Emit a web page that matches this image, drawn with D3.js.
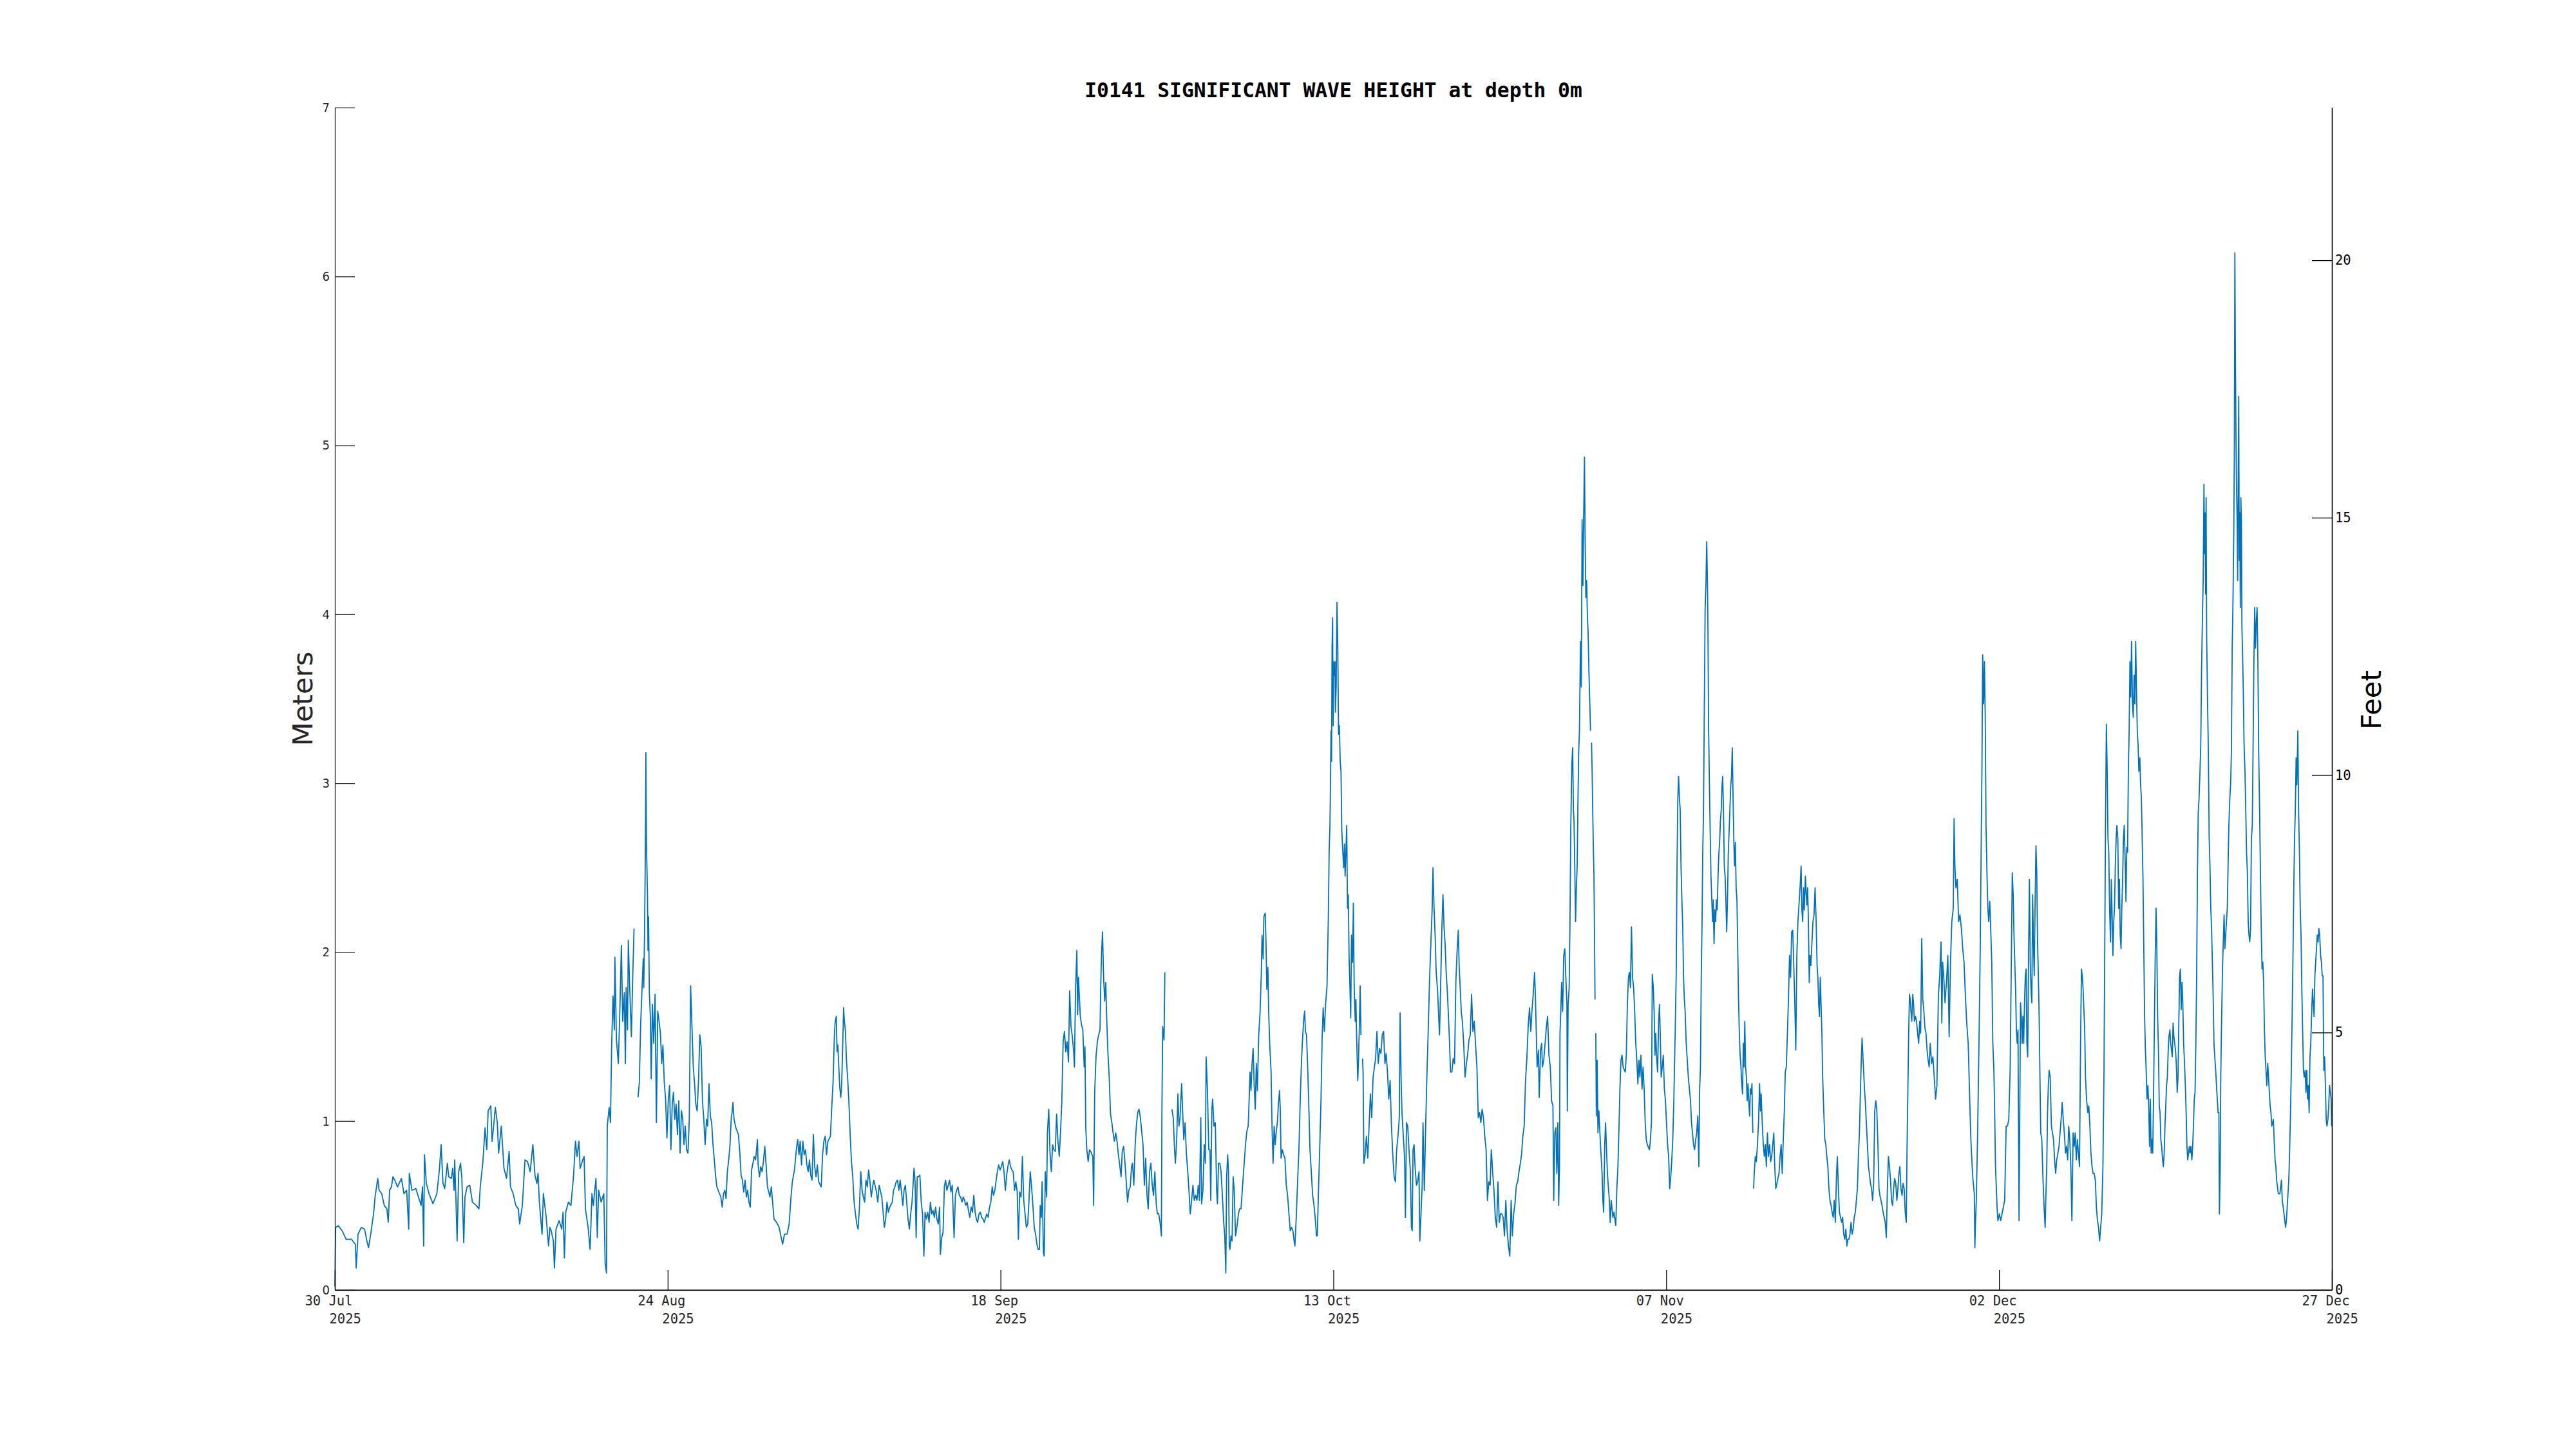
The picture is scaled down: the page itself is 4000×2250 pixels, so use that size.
<!DOCTYPE html>
<html><head><meta charset="utf-8">
<script src="https://cdn.jsdelivr.net/npm/d3@7"></script>
<style>html,body{margin:0;padding:0;background:#fff;} svg{display:block;}</style>
</head><body>
<svg id="chart" width="4000" height="2250"></svg>
<script>
// ---------------- data ----------------
const titleText = "I0141 SIGNIFICANT WAVE HEIGHT at depth 0m";
const startDateUTC = [2025, 6, 30];            // 30 Jul 2025
const xTickDayOffsets = [0, 25, 50, 75, 100, 125, 150];
const meterTicks = [0, 1, 2, 3, 4, 5, 6, 7];
const feetTicks = [0, 5, 10, 15, 20];
const meterMax = 7;
const M_TO_FT = 3.28084;

// [days since 30 Jul 2025, significant wave height in metres]; null = missing data
const seg1 = [[0,0.02],[0.06,0.37],[0.26,0.38],[0.55,0.35],[0.85,0.30],[1.24,0.30],[1.54,0.27],[1.60,0.13],[1.74,0.33],[1.99,0.37],[2.23,0.36],[2.43,0.28],[2.53,0.25],[2.73,0.35],[2.92,0.46],[3.02,0.55],[3.22,0.66],[3.32,0.59],[3.52,0.57],[3.71,0.50],[3.91,0.48],[4.01,0.40],[4.11,0.59],[4.25,0.61],[4.36,0.67],[4.50,0.65],[4.70,0.61],[5.00,0.66],[5.19,0.57],[5.39,0.59],[5.55,0.36],[5.59,0.69],[5.79,0.59],[6.08,0.60],[6.28,0.55],[6.48,0.50],[6.58,0.61],[6.67,0.26],[6.73,0.80],[6.87,0.63],[7.07,0.57],[7.37,0.51],[7.66,0.57],[7.86,0.72],[7.98,0.86],[8.12,0.63],[8.25,0.60],[8.45,0.75],[8.55,0.67],[8.75,0.66],[8.85,0.72],[8.95,0.59],[9.00,0.77],[9.08,0.57],[9.18,0.29],[9.30,0.70],[9.44,0.75],[9.54,0.66],[9.68,0.28],[9.77,0.55],[9.93,0.61],[10.13,0.62],[10.33,0.52],[10.62,0.50],[10.82,0.48],[10.92,0.61],[11.12,0.76],[11.28,0.96],[11.41,0.83],[11.51,1.06],[11.71,1.09],[11.81,0.88],[11.95,0.99],[12.05,1.08],[12.20,0.99],[12.30,0.81],[12.50,0.97],[12.70,0.72],[12.89,0.66],[13.09,0.82],[13.19,0.61],[13.39,0.57],[13.59,0.50],[13.78,0.48],[13.88,0.39],[14.08,0.50],[14.28,0.77],[14.47,0.76],[14.67,0.70],[14.87,0.86],[15.03,0.68],[15.17,0.63],[15.26,0.69],[15.36,0.52],[15.56,0.33],[15.66,0.57],[15.86,0.44],[16.05,0.26],[16.15,0.37],[16.25,0.35],[16.41,0.29],[16.49,0.13],[16.61,0.36],[16.84,0.41],[17.04,0.36],[17.14,0.46],[17.24,0.19],[17.34,0.46],[17.54,0.52],[17.73,0.50],[17.93,0.68],[18.07,0.88],[18.19,0.79],[18.33,0.88],[18.42,0.72],[18.62,0.77],[18.72,0.79],[18.82,0.48],[19.02,0.37],[19.17,0.24],[19.31,0.57],[19.41,0.50],[19.61,0.66],[19.71,0.31],[19.81,0.59],[20.00,0.52],[20.20,0.57],[20.30,0.16],[20.40,0.10],[20.46,0.97],[20.60,1.08],[20.70,0.99],[20.79,1.45],[20.89,1.74],[20.99,1.54],[21.03,1.97],[21.15,1.48],[21.29,1.34],[21.39,1.61],[21.52,2.04],[21.62,1.59],[21.74,1.76],[21.82,1.34],[21.88,1.79],[21.98,1.54],[22.04,2.07],[22.14,1.80],[22.27,1.50],[22.37,1.85],[22.47,2.14],[22.6,null],[22.77,1.14],[22.87,1.23],[22.97,1.58],[23.16,1.96],[23.20,1.79],[23.26,2.12],[23.32,2.58],[23.36,3.18],[23.40,2.65],[23.48,2.34],[23.52,2.01],[23.56,2.21],[23.62,1.76],[23.70,1.61],[23.76,1.25],[23.80,1.45],[23.85,1.69],[23.95,1.46],[24.05,1.75],[24.15,0.99],[24.25,1.65],[24.35,1.59],[24.45,1.52],[24.55,1.34],[24.64,1.45],[24.74,1.23],[24.84,1.13],[24.94,0.90],[25.04,1.12],[25.14,1.21],[25.24,0.83],[25.34,1.10],[25.43,1.17],[25.53,1.01],[25.63,1.10],[25.73,0.92],[25.83,1.12],[25.93,0.81],[26.03,1.06],[26.13,1.01],[26.22,0.86],[26.32,0.97],[26.42,0.83],[26.52,0.81],[26.62,1.01],[26.72,1.80],[26.82,1.56],[26.92,1.32],[27.01,1.23],[27.11,1.10],[27.21,1.06],[27.31,1.23],[27.41,1.51],[27.51,1.44],[27.61,1.12],[27.71,1.01],[27.81,0.86],[27.91,1.01],[28.00,0.97],[28.10,1.22],[28.20,1.03],[28.30,0.99],[28.40,0.86],[28.50,0.77],[28.59,0.68],[28.69,0.61],[28.79,0.59],[28.89,0.57],[28.99,0.55],[29.09,0.49],[29.19,0.57],[29.29,0.59],[29.38,0.54],[29.48,0.70],[29.58,0.77],[29.68,0.86],[29.78,1.03]];

const seg2 = [[29.82,1.04],[29.90,1.11],[29.98,1.01],[30.12,0.96],[30.31,0.92],[30.41,0.82],[30.51,0.68],[30.61,0.65],[30.71,0.58],[30.81,0.65],[30.91,0.55],[31.00,0.59],[31.10,0.52],[31.20,0.49],[31.30,0.71],[31.50,0.79],[31.60,0.77],[31.74,0.89],[31.79,0.74],[31.89,0.67],[31.99,0.73],[32.09,0.70],[32.19,0.76],[32.29,0.85],[32.39,0.74],[32.49,0.61],[32.68,0.55],[32.78,0.61],[32.88,0.52],[32.98,0.42],[33.18,0.40],[33.37,0.37],[33.47,0.33],[33.63,0.27],[33.77,0.33],[33.97,0.33],[34.12,0.39],[34.26,0.55],[34.36,0.64],[34.52,0.71],[34.66,0.83],[34.76,0.89],[34.86,0.80],[34.95,0.88],[35.05,0.74],[35.15,0.88],[35.25,0.80],[35.35,0.83],[35.45,0.74],[35.55,0.70],[35.65,0.77],[35.74,0.68],[35.84,0.65],[35.94,0.92],[36.04,0.73],[36.14,0.67],[36.24,0.74],[36.34,0.64],[36.53,0.61],[36.63,0.80],[36.73,0.88],[36.83,0.91],[36.93,0.80],[37.03,0.88],[37.22,0.91],[37.32,1.08],[37.42,1.23],[37.52,1.51],[37.58,1.59],[37.66,1.62],[37.72,1.41],[37.78,1.45],[37.84,1.34],[37.92,1.20],[38.00,1.14],[38.07,1.23],[38.15,1.47],[38.21,1.67],[38.27,1.59],[38.35,1.53],[38.43,1.35],[38.51,1.26],[38.61,1.11],[38.71,0.91],[38.80,0.76],[38.90,0.67],[39.00,0.52],[39.10,0.45],[39.20,0.39],[39.30,0.36],[39.40,0.49],[39.50,0.70],[39.60,0.59],[39.69,0.55],[39.79,0.52],[39.89,0.65],[39.99,0.61],[40.09,0.71],[40.19,0.64],[40.29,0.55],[40.39,0.61],[40.48,0.65],[40.68,0.58],[40.78,0.52],[40.88,0.62],[41.08,0.55],[41.17,0.47],[41.27,0.37],[41.37,0.42],[41.47,0.52],[41.57,0.46],[41.67,0.49],[41.87,0.52],[41.96,0.59],[42.06,0.61],[42.16,0.64],[42.26,0.65],[42.36,0.59],[42.46,0.65],[42.56,0.58],[42.66,0.50],[42.75,0.59],[42.85,0.62],[42.95,0.52],[43.05,0.42],[43.15,0.36],[43.25,0.45],[43.35,0.52],[43.45,0.65],[43.50,0.72],[43.58,0.64],[43.66,0.31],[43.74,0.67],[43.84,0.67],[43.94,0.68],[44.04,0.52],[44.14,0.45],[44.24,0.20],[44.33,0.46],[44.43,0.42],[44.53,0.46],[44.63,0.40],[44.73,0.52],[44.83,0.45],[44.93,0.47],[45.03,0.43],[45.12,0.49],[45.22,0.42],[45.32,0.39],[45.42,0.49],[45.48,0.21],[45.58,0.31],[45.68,0.34],[45.78,0.61],[45.87,0.65],[45.97,0.59],[46.07,0.62],[46.17,0.65],[46.27,0.58],[46.37,0.62],[46.51,0.31],[46.61,0.56],[46.70,0.59],[46.80,0.61],[46.90,0.56],[47.00,0.55],[47.10,0.52],[47.20,0.55],[47.30,0.53],[47.39,0.50],[47.49,0.52],[47.59,0.47],[47.69,0.43],[47.79,0.49],[47.89,0.46],[47.99,0.56],[48.09,0.46],[48.18,0.42],[48.28,0.40],[48.38,0.45],[48.48,0.46],[48.58,0.43],[48.68,0.42],[48.78,0.40],[48.88,0.43],[48.97,0.45],[49.07,0.43],[49.17,0.49],[49.27,0.52],[49.37,0.61],[49.47,0.56],[49.57,0.59],[49.67,0.65],[49.76,0.70],[49.86,0.74],[49.96,0.71],[50.06,0.73],[50.16,0.76],[50.26,0.70],[50.36,0.59],[50.46,0.68],[50.55,0.73],[50.65,0.77],[50.75,0.73],[50.85,0.71],[50.95,0.70],[51.05,0.59],[51.15,0.64],[51.25,0.58],[51.34,0.30],[51.44,0.58],[51.54,0.55],[51.64,0.79],[51.74,0.53],[51.84,0.45],[51.94,0.37],[52.04,0.39],[52.13,0.52],[52.23,0.70],[52.33,0.61],[52.43,0.50],[52.53,0.37],[52.63,0.33],[52.73,0.27],[52.83,0.24],[52.92,0.24],[52.98,0.50],[53.06,0.43],[53.12,0.64],[53.22,0.22],[53.28,0.20],[53.36,0.70],[53.46,0.55],[53.52,0.93],[53.62,1.07],[53.71,0.82],[53.81,0.70],[53.91,0.86],[54.01,0.83],[54.11,0.82],[54.21,1.04],[54.31,0.88],[54.41,0.79],[54.50,0.93],[54.60,1.11],[54.70,1.47],[54.80,1.53],[54.90,1.41],[55.00,1.47],[55.10,1.35],[55.19,1.77],[55.29,1.56],[55.39,1.50],[55.49,1.41],[55.55,1.32],[55.63,1.77],[55.73,2.01],[55.79,1.63],[55.85,1.85],[55.99,1.62],[56.08,1.57],[56.18,1.54],[56.28,1.32],[56.34,1.44],[56.40,0.96],[56.48,0.83],[56.58,0.76],[56.68,0.83],[56.77,0.82],[56.93,0.79],[56.99,0.50],[57.07,1.17],[57.17,1.38],[57.27,1.47],[57.37,1.51],[57.47,1.54],[57.53,1.82],[57.59,2.00],[57.66,2.12],[57.74,1.85],[57.82,1.71],[57.90,1.82],[57.98,1.59],[58.06,1.41],[58.16,1.26],[58.26,1.04],[58.36,0.99],[58.45,0.93],[58.55,0.88],[58.65,0.93],[58.75,0.88],[58.85,0.80],[58.95,0.74],[59.05,0.67],[59.14,0.82],[59.24,0.85],[59.34,0.76],[59.44,0.64],[59.54,0.52],[59.64,0.59],[59.74,0.61],[59.84,0.73]];

const seg3 = [[59.91,0.75],[60.01,0.62],[60.11,0.86],[60.20,0.97],[60.30,1.05],[60.40,1.07],[60.50,1.02],[60.60,0.94],[60.70,0.86],[60.80,0.62],[60.90,0.78],[61.00,0.56],[61.09,0.48],[61.19,0.70],[61.29,0.75],[61.39,0.62],[61.49,0.56],[61.59,0.70],[61.69,0.51],[61.78,0.45],[61.88,0.45],[61.98,0.40],[62.08,0.32],[62.12,1.07],[62.18,1.56],[62.28,1.48],[62.34,1.88],[62.6,null],[62.87,1.07],[62.97,1.02],[63.07,0.83],[63.13,0.75],[63.23,0.89],[63.32,1.16],[63.40,0.97],[63.48,1.02],[63.60,1.22],[63.68,1.05],[63.76,0.89],[63.86,0.99],[63.96,0.80],[64.06,0.70],[64.15,0.59],[64.25,0.45],[64.35,0.53],[64.45,0.62],[64.55,0.53],[64.65,0.56],[64.75,0.53],[64.85,0.62],[64.94,0.53],[65.04,1.02],[65.10,0.51],[65.20,0.59],[65.30,0.86],[65.38,0.75],[65.44,1.38],[65.54,1.18],[65.64,0.83],[65.73,0.83],[65.79,0.53],[65.87,1.07],[65.93,1.13],[66.03,0.97],[66.13,0.99],[66.23,0.59],[66.29,0.51],[66.37,0.75],[66.47,0.75],[66.56,0.70],[66.66,0.56],[66.76,0.40],[66.84,0.32],[66.92,0.10],[66.98,0.67],[67.06,0.80],[67.12,0.70],[67.18,0.26],[67.23,0.24],[67.31,0.32],[67.39,0.29],[67.47,0.67],[67.55,0.59],[67.65,0.32],[67.75,0.37],[67.87,0.45],[67.95,0.48],[68.06,0.48],[68.20,0.64],[68.30,0.75],[68.40,0.86],[68.50,0.94],[68.60,0.97],[68.66,1.10],[68.74,1.29],[68.81,1.18],[68.89,1.34],[68.97,1.43],[69.05,1.21],[69.13,1.07],[69.21,1.34],[69.29,1.18],[69.39,1.51],[69.49,1.64],[69.58,1.86],[69.64,2.10],[69.72,1.96],[69.78,2.21],[69.88,2.23],[69.94,2.05],[70.00,1.78],[70.08,1.91],[70.14,1.64],[70.22,1.45],[70.32,1.29],[70.39,0.97],[70.47,0.75],[70.55,0.97],[70.63,0.86],[70.71,0.94],[70.79,0.99],[70.87,1.10],[70.95,1.18],[71.01,1.07],[71.07,0.78],[71.16,0.83],[71.26,0.80],[71.36,0.78],[71.46,0.62],[71.56,0.56],[71.66,0.45],[71.76,0.35],[71.86,0.37],[71.96,0.35],[72.05,0.29],[72.11,0.26],[72.21,0.43],[72.31,0.64],[72.41,0.83],[72.51,1.13],[72.61,1.37],[72.70,1.51],[72.78,1.61],[72.84,1.65],[72.90,1.53],[72.98,1.51],[73.06,1.34],[73.14,1.13],[73.24,0.83],[73.34,0.70],[73.44,0.56],[73.53,0.51],[73.63,0.43],[73.73,0.32],[73.79,0.32],[73.87,0.56],[73.97,0.83],[74.07,1.13],[74.15,1.48],[74.23,1.67],[74.32,1.53],[74.42,1.70],[74.52,1.80],[74.62,2.21],[74.68,2.59],[74.74,2.75],[74.78,2.99],[74.82,3.31],[74.86,3.13],[74.90,3.80],[74.94,3.98],[74.98,3.34],[75.02,3.72],[75.08,3.64],[75.12,3.72],[75.15,3.42],[75.21,3.58],[75.27,4.07],[75.33,3.80],[75.39,3.29],[75.45,3.34],[75.51,3.13],[75.57,3.07],[75.63,2.72],[75.71,2.59],[75.77,2.50],[75.83,2.64],[75.88,2.45],[75.94,2.59],[76.00,2.75],[76.06,2.26],[76.12,2.34],[76.18,1.96],[76.24,1.80],[76.30,1.61],[76.36,2.10],[76.44,1.94],[76.50,2.29],[76.56,1.80],[76.64,1.59],[76.69,1.72],[76.75,1.48],[76.83,1.24],[76.89,1.37],[76.95,1.56],[77.01,1.80],[77.07,1.51],[77.12,null],[77.19,1.37],[77.23,1.29],[77.29,0.75],[77.38,0.80],[77.48,0.91],[77.58,0.78],[77.68,0.97],[77.78,1.16],[77.88,1.02],[77.98,1.26],[78.08,1.32],[78.17,1.37],[78.27,1.53],[78.37,1.34],[78.47,1.43],[78.57,1.40],[78.67,1.51],[78.77,1.53],[78.87,1.34],[78.96,1.40],[79.06,1.29],[79.16,1.13],[79.26,1.24],[79.36,0.97],[79.46,0.80],[79.56,0.67],[79.66,0.64],[79.75,0.83],[79.85,0.91],[79.95,1.02],[80.01,1.64],[80.09,1.24],[80.15,1.05],[80.25,0.91],[80.35,0.78],[80.41,0.43],[80.49,0.99],[80.58,0.97],[80.68,0.83],[80.78,0.70],[80.86,0.37],[80.92,0.35],[80.98,0.83],[81.06,0.86],[81.14,0.72],[81.24,0.62],[81.33,0.64],[81.43,0.70],[81.49,0.29],[81.57,0.43],[81.67,0.62],[81.73,0.99],[81.83,0.59],[81.93,0.97],[82.03,1.29],[82.12,1.53],[82.22,1.83],[82.32,2.05],[82.42,2.26],[82.48,2.50],[82.56,2.26],[82.64,2.10],[82.72,1.88],[82.82,1.78],[82.91,1.61],[82.97,1.51],[83.05,1.78],[83.15,2.15],[83.23,2.34],[83.31,2.15],[83.39,2.05],[83.47,1.88],[83.55,1.78],[83.63,1.64],[83.70,1.51],[83.80,1.29],[83.90,1.29],[84.00,1.37],[84.10,1.34],[84.20,1.83],[84.30,2.02],[84.38,2.13],[84.45,1.91],[84.53,1.78],[84.61,1.64],[84.69,1.59],[84.79,1.45],[84.89,1.26],[84.99,1.34],[85.09,1.40],[85.18,1.48],[85.28,1.51],[85.38,1.75],[85.48,1.53],[85.58,1.59],[85.68,1.45],[85.78,1.32],[85.88,1.02],[85.98,1.05],[86.07,0.99],[86.17,1.07],[86.27,1.02],[86.37,0.91],[86.47,0.83],[86.57,0.53],[86.67,0.64],[86.77,0.62],[86.86,0.83],[86.96,0.70],[87.06,0.59],[87.16,0.43],[87.26,0.37],[87.36,0.64],[87.46,0.40],[87.55,0.45],[87.65,0.45],[87.75,0.43],[87.85,0.32],[87.95,0.53],[88.05,0.35],[88.15,0.26],[88.25,0.20],[88.35,0.53],[88.44,0.32],[88.54,0.45],[88.64,0.51],[88.74,0.62],[88.84,0.64],[88.94,0.70],[89.04,0.75],[89.13,0.80],[89.23,0.91],[89.33,0.97],[89.43,1.24],[89.53,1.37],[89.63,1.56],[89.73,1.67],[89.83,1.53]];

const seg4 = [[89.91,1.65],[90.01,1.75],[90.11,1.88],[90.17,1.75],[90.24,1.52],[90.30,1.32],[90.40,1.42],[90.46,1.14],[90.56,1.42],[90.64,1.46],[90.70,1.32],[90.80,1.36],[90.90,1.46],[90.99,1.55],[91.09,1.62],[91.19,1.39],[91.29,1.32],[91.39,1.12],[91.49,1.09],[91.55,0.53],[91.63,0.93],[91.71,0.96],[91.78,0.69],[91.86,0.99],[91.92,0.50],[91.98,0.73],[92.02,1.52],[92.08,1.65],[92.14,1.82],[92.22,1.65],[92.30,1.98],[92.38,2.02],[92.46,1.85],[92.54,1.69],[92.57,1.06],[92.63,1.69],[92.71,1.79],[92.77,2.18],[92.83,2.74],[92.91,3.11],[92.97,3.21],[93.03,2.84],[93.07,2.78],[93.13,2.51],[93.19,2.18],[93.25,2.38],[93.31,2.51],[93.36,2.84],[93.42,3.17],[93.48,3.31],[93.56,3.84],[93.62,3.57],[93.68,4.56],[93.74,4.17],[93.80,4.60],[93.86,4.93],[93.90,4.50],[93.96,4.10],[94.02,4.20],[94.08,3.98],[94.13,3.90],[94.19,3.67],[94.27,3.44],[94.31,3.31],[94.34,null],[94.39,3.24],[94.43,3.08],[94.51,2.68],[94.57,2.45],[94.61,2.12],[94.65,1.72],[94.67,null],[94.71,1.52],[94.75,1.03],[94.81,1.36],[94.87,0.93],[94.94,1.06],[95.06,0.86],[95.18,0.69],[95.24,0.53],[95.30,0.46],[95.38,0.86],[95.44,0.99],[95.50,0.86],[95.58,0.69],[95.66,0.60],[95.73,0.53],[95.79,0.40],[95.87,0.53],[95.99,0.43],[96.07,0.46],[96.21,0.38],[96.29,0.60],[96.37,0.73],[96.44,0.93],[96.52,1.19],[96.60,1.36],[96.68,1.39],[96.76,1.32],[96.92,1.29],[97.00,1.39],[97.08,1.69],[97.16,1.85],[97.23,1.88],[97.31,1.79],[97.39,2.15],[97.47,1.85],[97.55,1.79],[97.63,1.65],[97.71,1.46],[97.79,1.36],[97.87,1.22],[97.95,1.36],[98.02,1.26],[98.10,1.39],[98.18,1.19],[98.26,1.32],[98.34,1.19],[98.42,0.99],[98.50,0.89],[98.58,0.86],[98.74,0.83],[98.81,0.89],[98.89,0.99],[98.95,1.87],[99.03,1.79],[99.09,1.65],[99.15,1.39],[99.21,1.52],[99.29,1.36],[99.35,1.29],[99.43,1.59],[99.49,1.69],[99.55,1.52],[99.62,1.26],[99.70,1.32],[99.78,1.39],[99.86,1.19],[99.94,1.12],[100.02,0.99],[100.10,0.86],[100.18,0.79],[100.26,0.60],[100.33,0.66],[100.41,0.76],[100.49,0.89],[100.57,1.12],[100.67,1.52],[100.75,1.88],[100.81,2.51],[100.87,2.91],[100.93,3.04],[100.99,2.91],[101.05,2.84],[101.11,2.51],[101.16,2.35],[101.24,2.15],[101.30,1.85],[101.36,1.72],[101.42,1.65],[101.50,1.46],[101.58,1.36],[101.66,1.26],[101.74,1.19],[101.82,1.12],[101.90,0.99],[101.97,0.93],[102.05,0.86],[102.13,0.83],[102.21,0.89],[102.29,0.93],[102.37,1.03],[102.45,0.73],[102.51,1.19],[102.57,1.32],[102.63,1.85],[102.69,2.18],[102.74,2.58],[102.80,2.84],[102.86,3.44],[102.92,4.03],[102.98,4.17],[103.04,4.43],[103.10,4.17],[103.14,3.84],[103.18,3.34],[103.24,3.01],[103.30,2.71],[103.36,2.45],[103.42,2.31],[103.48,2.18],[103.53,2.31],[103.59,2.05],[103.65,2.25],[103.71,2.18],[103.77,2.31],[103.83,2.25],[103.89,2.45],[103.95,2.58],[104.01,2.65],[104.07,2.78],[104.13,2.84],[104.19,2.98],[104.24,3.04],[104.30,2.84],[104.36,2.51],[104.42,2.45],[104.48,2.31],[104.54,2.12],[104.60,2.31],[104.66,2.58],[104.72,2.71],[104.78,2.84],[104.84,2.98],[104.90,3.04],[104.96,3.21],[105.02,2.91],[105.08,2.65],[105.13,2.51],[105.19,2.65],[105.25,2.38],[105.31,2.31],[105.37,2.02],[105.43,1.72],[105.49,1.52],[105.55,1.39],[105.61,1.32],[105.67,1.22],[105.73,1.16],[105.79,1.46],[105.84,1.32],[105.90,1.59],[105.96,1.32],[106.02,1.26],[106.08,1.12],[106.14,1.22],[106.20,1.12],[106.26,1.03],[106.32,1.19],[106.38,1.16],[106.44,1.22],[106.50,0.93],[106.53,null],[106.56,0.60],[106.61,0.69],[106.69,0.79],[106.77,0.76],[106.85,0.86],[106.93,0.99],[107.01,1.22],[107.07,1.06],[107.13,1.16],[107.21,0.99],[107.29,0.86],[107.37,0.79],[107.44,0.86],[107.52,0.73],[107.60,0.93],[107.68,0.79],[107.76,0.86],[107.84,0.76],[107.92,0.79],[108.00,0.86],[108.08,0.93],[108.15,0.73],[108.23,0.60],[108.31,0.63],[108.39,0.66],[108.47,0.69],[108.55,0.79],[108.63,0.86],[108.71,0.69],[108.79,0.89],[108.87,1.06],[108.94,1.29],[109.02,1.32],[109.10,1.52],[109.18,1.72],[109.26,1.98],[109.34,1.85],[109.42,2.12],[109.50,2.13],[109.58,1.92],[109.66,1.69],[109.73,1.42],[109.81,1.98],[109.89,2.18],[109.97,2.28],[110.05,2.38],[110.13,2.51],[110.19,2.25],[110.25,2.18],[110.31,2.38],[110.37,2.25],[110.45,2.45],[110.51,2.35],[110.56,2.28],[110.62,2.38],[110.68,2.18],[110.74,1.82],[110.80,1.98],[110.86,1.92],[110.94,2.05],[111.02,2.18],[111.10,2.22],[111.18,2.38],[111.26,2.18],[111.33,1.92],[111.39,1.85],[111.45,1.69],[111.51,1.62],[111.57,1.85],[111.63,1.69],[111.69,1.52],[111.75,1.26],[111.83,1.06],[111.91,0.89],[111.99,0.86],[112.06,0.79],[112.14,0.73],[112.22,0.60],[112.30,0.53],[112.38,0.50],[112.46,0.46],[112.54,0.43],[112.62,0.53],[112.70,0.40],[112.78,0.66],[112.85,0.79],[112.93,0.60],[113.01,0.46],[113.09,0.43],[113.17,0.40],[113.25,0.43],[113.33,0.33],[113.41,0.30],[113.49,0.36],[113.57,0.26],[113.64,0.30],[113.72,0.30],[113.80,0.33],[113.88,0.40],[113.96,0.33],[114.04,0.36],[114.12,0.43],[114.20,0.46],[114.28,0.53],[114.36,0.60],[114.43,0.79],[114.51,0.93],[114.59,1.19],[114.65,1.36],[114.71,1.49],[114.77,1.39],[114.83,1.29],[114.89,1.19],[114.95,1.12],[115.03,0.99],[115.11,0.86],[115.19,0.73],[115.26,0.69],[115.34,0.63],[115.42,0.60],[115.50,0.53],[115.58,0.63],[115.66,1.06],[115.74,1.12],[115.82,1.06],[115.90,0.86],[115.98,0.60],[116.05,0.56],[116.13,0.53],[116.21,0.50],[116.29,0.46],[116.37,0.43],[116.45,0.40],[116.53,0.31],[116.61,0.60],[116.69,0.79],[116.77,0.73],[116.84,0.66],[116.92,0.53],[117.00,0.50],[117.08,0.60],[117.16,0.66],[117.24,0.63],[117.32,0.53],[117.40,0.60],[117.48,0.69],[117.55,0.73],[117.63,0.60],[117.71,0.56],[117.79,0.63],[117.87,0.60],[117.95,0.46],[118.03,0.40],[118.09,0.86],[118.15,1.19],[118.21,1.52],[118.27,1.75],[118.33,1.72],[118.38,1.65],[118.44,1.59],[118.52,1.75],[118.58,1.69],[118.64,1.59],[118.72,1.62],[118.80,1.59],[118.88,1.52],[118.96,1.46],[119.04,1.59],[119.11,1.52],[119.19,2.08],[119.27,1.72],[119.35,1.65],[119.43,1.55],[119.51,1.52],[119.59,1.42],[119.67,1.36],[119.75,1.32],[119.83,1.46]];

const seg5 = [[119.93,1.34],[120.03,1.38],[120.13,1.26],[120.23,1.13],[120.33,1.21],[120.44,1.74],[120.54,1.86],[120.64,2.06],[120.70,1.58],[120.76,1.94],[120.84,1.86],[120.94,1.70],[121.05,1.82],[121.15,1.98],[121.25,1.50],[121.35,1.94],[121.45,2.18],[121.56,2.26],[121.62,2.79],[121.68,2.51],[121.76,2.38],[121.86,2.43],[121.96,2.18],[122.06,2.22],[122.17,2.14],[122.27,2.02],[122.37,1.94],[122.47,1.74],[122.57,1.58],[122.68,1.46],[122.78,1.17],[122.88,0.89],[122.98,0.73],[123.04,0.65],[123.14,0.57],[123.18,0.25],[123.23,0.41],[123.29,0.53],[123.39,0.93],[123.49,1.46],[123.59,2.06],[123.65,2.59],[123.71,3.07],[123.77,3.76],[123.84,3.47],[123.90,3.72],[123.96,3.39],[124.02,2.75],[124.10,2.43],[124.16,2.26],[124.22,2.18],[124.30,2.30],[124.37,2.14],[124.45,1.94],[124.53,1.46],[124.61,1.30],[124.67,1.05],[124.73,0.73],[124.79,0.61],[124.85,0.49],[124.91,0.41],[125.02,0.45],[125.12,0.41],[125.22,0.45],[125.32,0.49],[125.42,0.53],[125.53,0.97],[125.63,0.97],[125.73,1.01],[125.83,1.30],[125.93,2.02],[125.99,2.47],[126.06,2.34],[126.12,2.10],[126.18,1.94],[126.24,1.78],[126.30,1.54],[126.36,1.46],[126.42,1.54],[126.50,0.41],[126.61,1.70],[126.67,1.62],[126.73,1.46],[126.79,1.62],[126.85,1.46],[126.91,1.70],[126.97,1.86],[127.03,1.90],[127.09,1.46],[127.15,1.38],[127.22,2.02],[127.28,2.43],[127.34,1.94],[127.40,1.78],[127.46,1.70],[127.52,2.34],[127.58,2.06],[127.64,1.86],[127.70,2.26],[127.77,2.63],[127.83,2.47],[127.89,2.06],[127.95,1.86],[128.01,1.62],[128.07,1.26],[128.13,0.93],[128.21,0.89],[128.30,0.65],[128.38,0.49],[128.46,0.37],[128.52,0.57],[128.58,0.73],[128.64,1.05],[128.70,1.21],[128.76,1.30],[128.84,1.26],[128.93,0.97],[129.01,0.93],[129.09,0.89],[129.17,0.77],[129.25,0.69],[129.33,0.77],[129.42,0.81],[129.50,0.85],[129.58,0.93],[129.66,1.01],[129.74,1.11],[129.82,1.01],[129.90,0.93],[129.99,0.81],[130.07,0.85],[130.15,0.77],[130.23,0.97],[130.31,0.89],[130.39,0.73],[130.47,0.41],[130.56,0.93],[130.64,0.85],[130.72,0.93],[130.80,0.77],[130.88,0.89],[130.96,0.81],[131.04,0.73],[131.13,1.54],[131.19,1.90],[131.25,1.86],[131.31,1.78],[131.37,1.66],[131.43,1.54],[131.49,1.26],[131.57,1.13],[131.66,1.05],[131.74,1.09],[131.82,0.97],[131.90,0.81],[131.98,0.73],[132.06,0.69],[132.14,0.69],[132.23,0.65],[132.31,0.49],[132.39,0.41],[132.47,0.37],[132.55,0.29],[132.63,0.37],[132.71,0.45],[132.80,0.73],[132.88,1.30],[132.94,2.06],[133.00,2.83],[133.06,3.35],[133.12,3.07],[133.18,2.67],[133.24,2.59],[133.30,2.26],[133.37,2.06],[133.43,2.43],[133.49,2.22],[133.55,1.98],[133.61,2.18],[133.67,2.26],[133.73,2.51],[133.79,2.67],[133.85,2.75],[133.92,2.67],[133.98,2.26],[134.04,2.43],[134.10,2.10],[134.16,2.02],[134.22,2.26],[134.28,2.43],[134.34,2.67],[134.40,2.75],[134.47,2.55],[134.53,2.30],[134.59,2.62],[134.65,2.59],[134.71,3.07],[134.77,3.31],[134.83,3.72],[134.89,3.51],[134.95,3.84],[135.02,3.47],[135.08,3.39],[135.14,3.64],[135.20,3.47],[135.26,3.84],[135.32,3.56],[135.38,3.31],[135.44,3.23],[135.50,3.07],[135.57,3.15],[135.63,2.99],[135.69,2.91],[135.75,2.67],[135.81,2.43],[135.87,2.02],[135.93,1.62],[135.99,1.42],[136.05,1.30],[136.11,1.13],[136.18,1.21],[136.24,1.09],[136.30,0.85],[136.36,1.13],[136.42,0.81],[136.48,0.89],[136.54,0.81],[136.60,1.13],[136.66,1.54],[136.73,1.98],[136.79,2.26],[136.85,2.02],[136.91,1.62],[136.97,1.42],[137.03,1.09],[137.09,1.05],[137.15,0.89],[137.21,0.85],[137.28,0.77],[137.34,0.73],[137.40,0.81],[137.46,0.97],[137.52,1.09],[137.58,1.21],[137.64,1.26],[137.70,1.41],[137.76,1.50],[137.83,1.54],[137.89,1.46],[137.95,1.42],[138.01,1.38],[138.07,1.58],[138.13,1.50],[138.19,1.46],[138.25,1.42],[138.31,1.34],[138.38,1.17],[138.44,1.26],[138.50,1.58],[138.56,1.86],[138.62,1.90],[138.68,1.66],[138.74,1.82],[138.80,1.70],[138.86,1.46],[138.93,1.34],[138.99,1.21],[139.05,1.05],[139.11,0.85],[139.17,0.77],[139.23,0.81],[139.29,0.85],[139.35,0.81],[139.41,0.85],[139.48,0.77],[139.54,0.85],[139.60,0.97],[139.66,1.13],[139.72,1.17],[139.78,1.46],[139.84,1.86],[139.90,2.47],[139.96,2.83],[140.02,2.91],[140.09,3.07],[140.15,3.23],[140.21,3.68],[140.27,3.96],[140.33,4.20],[140.39,4.77],[140.43,4.36],[140.47,4.60],[140.51,4.12],[140.55,4.69],[140.59,3.88],[140.66,3.47],[140.72,3.19],[140.78,2.67],[140.84,2.51],[140.90,2.26],[140.96,2.14],[141.02,1.94],[141.08,1.74],[141.14,1.46],[141.20,1.38],[141.27,1.30],[141.33,1.21],[141.39,1.13],[141.45,1.05],[141.51,1.05],[141.55,0.45],[141.61,0.73],[141.65,1.26],[141.71,1.58],[141.78,1.90],[141.84,2.06],[141.90,2.22],[141.96,2.02],[142.02,2.10],[142.08,2.18],[142.14,2.26],[142.20,2.51],[142.26,2.75],[142.33,2.91],[142.39,2.99],[142.45,3.19],[142.51,3.80],[142.57,4.08],[142.63,4.48],[142.67,4.97],[142.71,6.14],[142.75,5.53],[142.79,5.09],[142.83,4.77],[142.88,4.56],[142.92,4.20],[142.96,4.77],[143.00,5.29],[143.04,4.32],[143.08,4.60],[143.12,4.04],[143.16,4.69],[143.20,4.56],[143.24,3.92],[143.28,3.80],[143.34,3.56],[143.40,3.23],[143.47,3.07],[143.53,2.83],[143.59,2.59],[143.65,2.47],[143.71,2.18],[143.77,2.10],[143.83,2.06],[143.89,2.14],[143.95,2.67],[144.02,2.75],[144.08,3.23],[144.14,3.72],[144.20,4.04],[144.26,3.80],[144.32,3.96],[144.38,4.04],[144.44,3.72],[144.50,3.19],[144.57,2.83],[144.63,2.47],[144.69,2.14],[144.75,1.90],[144.81,1.94],[144.87,1.82],[144.93,1.54],[144.99,1.38],[145.05,1.30],[145.11,1.21],[145.18,1.34],[145.24,1.26],[145.30,1.17],[145.36,1.09],[145.42,1.05],[145.48,0.97],[145.60,1.01],[145.66,0.89],[145.73,0.77],[145.79,0.73],[145.85,0.65],[145.91,0.61],[145.97,0.57],[146.09,0.57],[146.21,0.65],[146.27,0.53],[146.34,0.49],[146.40,0.45],[146.46,0.41],[146.52,0.37],[146.58,0.41],[146.64,0.49],[146.70,0.57],[146.76,0.65],[146.82,0.81],[146.89,1.05],[146.95,1.30],[147.01,1.62],[147.07,1.94],[147.13,2.34],[147.19,2.67],[147.25,2.83],[147.31,3.15],[147.37,2.99],[147.44,3.31],[147.50,2.83],[147.56,2.59],[147.62,2.26],[147.68,2.10],[147.74,1.78],[147.80,1.54],[147.86,1.30],[147.92,1.26],[147.99,1.30],[148.05,1.17],[148.11,1.30],[148.17,1.13],[148.23,1.21],[148.29,1.05],[148.35,1.38],[148.41,1.46],[148.47,1.62],[148.54,1.78],[148.60,1.70],[148.66,1.62],[148.72,1.86],[148.78,1.94],[148.84,2.02],[148.90,2.10],[148.96,2.06],[149.02,2.14],[149.08,2.10],[149.15,1.98],[149.21,1.94],[149.27,1.86],[149.33,1.86],[149.39,1.30],[149.45,1.38],[149.51,1.21],[149.57,1.01],[149.63,0.97],[149.70,1.01],[149.76,1.09],[149.82,1.21],[149.88,1.17],[149.94,1.13],[149.98,0.97]];

// ---------------- drawing ----------------
const plot = {left: 520, right: 3621, top: 167, bottom: 2003};
const DAY = 86400000;
const t0 = Date.UTC(startDateUTC[0], startDateUTC[1], startDateUTC[2]);
const toDate = d => new Date(t0 + d * DAY);
const series = [].concat(seg1, seg2, seg3, seg4, seg5);

const svg = d3.select("#chart");
svg.append("rect").attr("width", 4000).attr("height", 2250).attr("fill", "#fff");

const x = d3.scaleUtc()
  .domain([toDate(xTickDayOffsets[0]), toDate(xTickDayOffsets[xTickDayOffsets.length - 1])])
  .range([plot.left, plot.right]);
const y = d3.scaleLinear().domain([0, meterMax]).range([plot.bottom, plot.top]);
const yFt = d3.scaleLinear().domain([0, meterMax * M_TO_FT]).range([plot.bottom, plot.top]);

// data line
const line = d3.line()
  .defined(d => d[1] !== null)
  .x(d => x(toDate(d[0])))
  .y(d => y(d[1]));
svg.append("path")
  .datum(series)
  .attr("fill", "none")
  .attr("stroke", "#0072BD")
  .attr("stroke-width", 1.8)
  .attr("stroke-linejoin", "round")
  .attr("d", line);

// left axis (metres)
const gL = svg.append("g").attr("transform", `translate(${plot.left},0)`)
  .call(d3.axisLeft(y).tickValues(meterTicks).tickSize(-31).tickSizeOuter(0).tickPadding(8).tickFormat(d3.format("d")));
gL.select(".domain").attr("stroke", "#262626").attr("stroke-width", 1.3);
gL.selectAll(".tick line").attr("stroke", "#262626").attr("stroke-width", 1.3);
gL.selectAll(".tick text").attr("fill", "#262626")
  .style("font-family", "'DejaVu Sans Condensed','DejaVu Sans',sans-serif").style("font-size", "20px");

// right axis (feet)
const gR = svg.append("g").attr("transform", `translate(${plot.right},0)`)
  .call(d3.axisRight(yFt).tickValues(feetTicks).tickSize(-31).tickSizeOuter(0).tickPadding(5).tickFormat(d3.format("d")));
gR.select(".domain").attr("stroke", "#000").attr("stroke-width", 1.6);
gR.selectAll(".tick line").attr("stroke", "#000").attr("stroke-width", 1.3);
gR.selectAll(".tick text").attr("fill", "#000")
  .style("font-family", "'DejaVu Sans Mono',monospace").style("font-size", "20.5px");

// bottom axis (dates)
const tickDates = xTickDayOffsets.map(toDate);
const gB = svg.append("g").attr("transform", `translate(0,${plot.bottom})`)
  .call(d3.axisBottom(x).tickValues(tickDates).tickSize(-31).tickSizeOuter(0).tickFormat(() => ""));
gB.select(".domain").attr("stroke", "#000").attr("stroke-width", 2);
gB.selectAll(".tick line").attr("stroke", "#000").attr("stroke-width", 1.3);

const fmtDay = d3.utcFormat("%d %b");
const fmtYear = d3.utcFormat("%Y");
const lbl = svg.append("g")
  .style("font-family", "'DejaVu Sans Mono',monospace").style("font-size", "20.5px").attr("fill", "#262626");
lbl.selectAll("text.l1").data(tickDates).join("text").attr("class", "l1")
  .attr("x", d => x(d) - 46.5).attr("y", plot.bottom + 24).text(fmtDay);
lbl.selectAll("text.l2").data(tickDates).join("text").attr("class", "l2")
  .attr("x", d => x(d) - 8.5).attr("y", plot.bottom + 52).text(fmtYear);

// axis titles
svg.append("text")
  .attr("transform", `translate(485,${(plot.top + plot.bottom) / 2}) rotate(-90)`)
  .attr("text-anchor", "middle").attr("fill", "#262626")
  .style("font-family", "'DejaVu Sans',sans-serif").style("font-size", "43px")
  .text("Meters");
svg.append("text")
  .attr("transform", `translate(3697,${(plot.top + plot.bottom) / 2 + 2}) rotate(-90)`)
  .attr("text-anchor", "middle").attr("fill", "#000")
  .style("font-family", "'DejaVu Sans',sans-serif").style("font-size", "43px")
  .text("Feet");

// title
svg.append("text")
  .attr("x", (plot.left + plot.right) / 2).attr("y", 151)
  .attr("text-anchor", "middle").attr("fill", "#000")
  .style("font-family", "'DejaVu Sans Mono',monospace").style("font-weight", "bold").style("font-size", "31.3px")
  .text(titleText);
</script>
</body></html>
